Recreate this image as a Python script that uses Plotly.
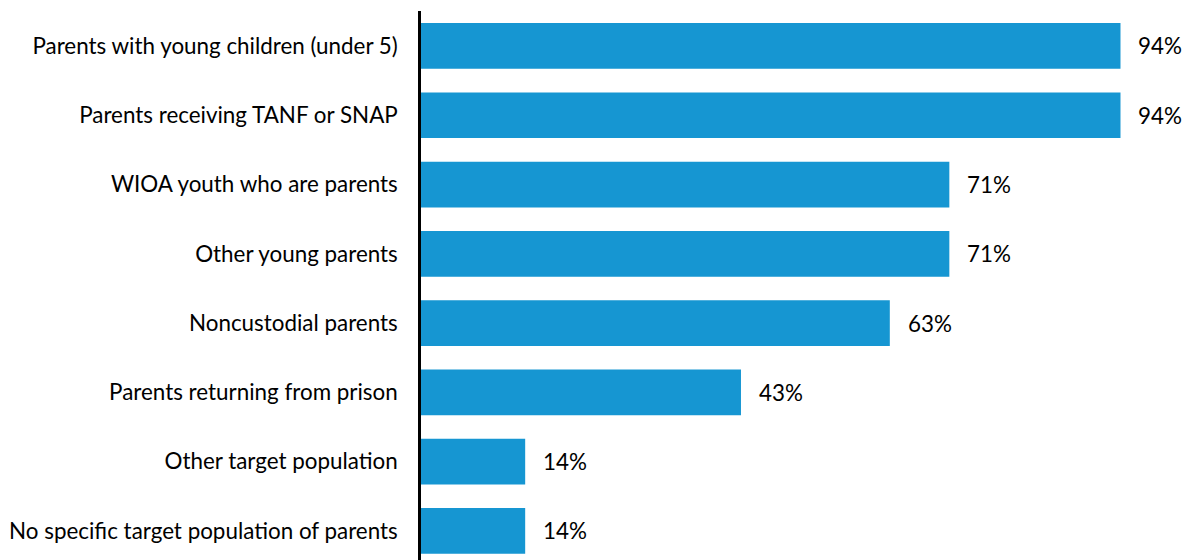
import plotly.graph_objects as go

categories = [
    "Parents with young children (under 5)",
    "Parents receiving TANF or SNAP",
    "WIOA youth who are parents",
    "Other young parents",
    "Noncustodial parents",
    "Parents returning from prison",
    "Other target population",
    "No specific target population of parents",
]
shares = [94, 94, 71, 71, 63, 43, 14, 14]
share_labels = ["94%", "94%", "71%", "71%", "63%", "43%", "14%", "14%"]

BLUE = "#1696d2"
FONT = "Lato, 'Open Sans', sans-serif"
SIZE = 22.4

fig = go.Figure(
    go.Bar(
        x=shares,
        y=categories,
        orientation="h",
        marker=dict(color=BLUE, line=dict(width=0)),
        width=0.66,
        hoverinfo="skip",
    )
)

for cat, val, lab in zip(categories, shares, share_labels):
    fig.add_annotation(
        x=val, y=cat, text=lab, showarrow=False,
        xanchor="left", yanchor="middle", xshift=16,
        font=dict(family=FONT, size=SIZE, color="#000000"),
    )

fig.update_layout(
    width=1183,
    height=560,
    margin=dict(l=421, r=0, t=11, b=0),
    paper_bgcolor="white",
    plot_bgcolor="white",
    showlegend=False,
    font=dict(family=FONT, size=SIZE, color="#000000"),
)
fig.update_xaxes(
    range=[0, 102.4], showgrid=False, zeroline=False,
    showticklabels=False, ticks="", fixedrange=True,
)
fig.update_yaxes(
    categoryorder="array", categoryarray=categories,
    range=[7.42, -0.505],
    showgrid=False, zeroline=False,
    showline=True, linecolor="#000000", linewidth=2.5,
    ticks="", ticklabelstandoff=16,
    tickfont=dict(family=FONT, size=SIZE, color="#000000"),
    fixedrange=True,
)

fig.write_html("out.html")
